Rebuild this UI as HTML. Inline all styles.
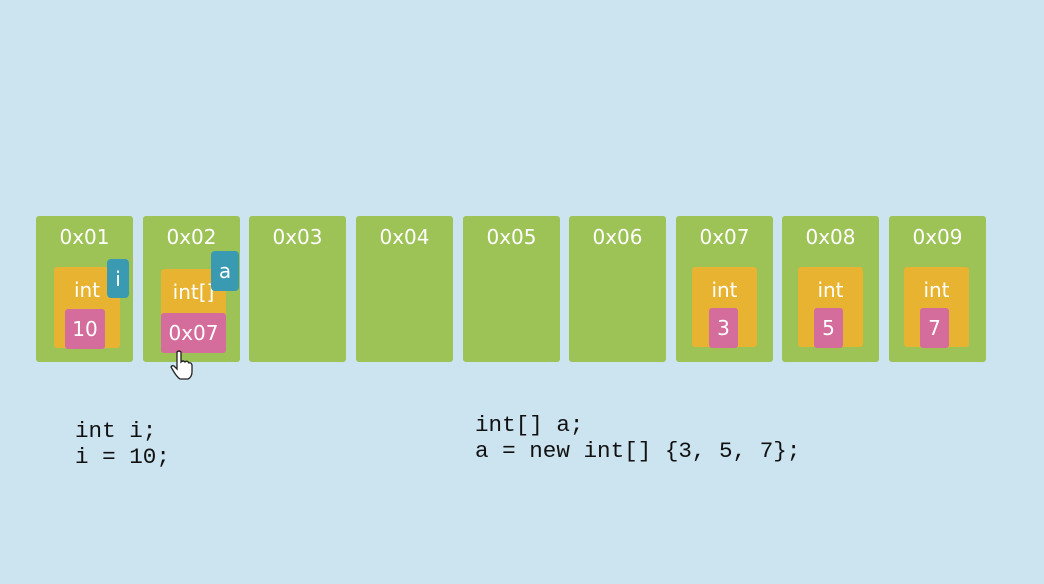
<!DOCTYPE html>
<html><head><meta charset="utf-8"><style>
body{margin:0;width:1044px;height:584px;background:#cce3f0;position:relative;overflow:hidden;font-family:"DejaVu Sans","Liberation Sans",sans-serif;}
.cell{position:absolute;top:216px;width:97px;height:146px;background:#9dc256;border-radius:3px;}
.addr{position:absolute;top:9px;left:0;width:100%;text-align:center;color:#fff;font-size:20px;}
.box{position:absolute;background:#e8b330;border-radius:3px;}
.box .t{position:absolute;top:11px;width:100%;text-align:center;color:#fff;font-size:20px;}
.val{position:absolute;background:#d46c9c;border-radius:3px;color:#fff;font-size:20px;display:flex;align-items:center;justify-content:center;}
.tag{position:absolute;background:#3a9ab2;border-radius:4px;color:#fff;font-size:20px;display:flex;align-items:center;justify-content:center;}
.code{position:absolute;font-family:"Liberation Mono",monospace;font-size:22.6px;line-height:26px;color:#111;white-space:pre;}
</style></head><body>
<div class="cell" style="left:36px"><div class="addr">0x01</div>
 <div class="box" style="left:18px;top:51px;width:66px;height:81px"><div class="t">int</div></div>
 <div class="val" style="left:29px;top:93px;width:40px;height:40px">10</div>
 <div class="tag" style="left:71px;top:43px;width:22px;height:39px">i</div></div>
<div class="cell" style="left:143px"><div class="addr">0x02</div>
 <div class="box" style="left:18px;top:53px;width:65px;height:80px"><div class="t">int[]</div></div>
 <div class="val" style="left:18px;top:97px;width:65px;height:40px">0x07</div>
 <div class="tag" style="left:68px;top:35px;width:28px;height:40px">a</div></div>
<div class="cell" style="left:249px"><div class="addr">0x03</div></div>
<div class="cell" style="left:356px"><div class="addr">0x04</div></div>
<div class="cell" style="left:463px"><div class="addr">0x05</div></div>
<div class="cell" style="left:569px"><div class="addr">0x06</div></div>
<div class="cell" style="left:676px"><div class="addr">0x07</div>
 <div class="box" style="left:16px;top:51px;width:65px;height:80px"><div class="t">int</div></div>
 <div class="val" style="left:33px;top:92px;width:29px;height:40px">3</div></div>
<div class="cell" style="left:782px"><div class="addr">0x08</div>
 <div class="box" style="left:16px;top:51px;width:65px;height:80px"><div class="t">int</div></div>
 <div class="val" style="left:32px;top:92px;width:29px;height:40px">5</div></div>
<div class="cell" style="left:889px"><div class="addr">0x09</div>
 <div class="box" style="left:15px;top:51px;width:65px;height:80px"><div class="t">int</div></div>
 <div class="val" style="left:31px;top:92px;width:29px;height:40px">7</div></div>
<div class="code" style="left:75px;top:418px">int i;
i = 10;</div>
<div class="code" style="left:475px;top:412px">int[] a;
a = new int[] {3, 5, 7};</div>
<svg style="position:absolute;left:170px;top:350px" width="26" height="30">
<path d="M7 2 q2-2 4 0 v10 q2-2 4 0 q2-2 4 1 q2-1 3 2 v7 q0 5-4 7 h-8 q-3-2-6-7 l-3-5 q1-2 3-1 l3 3z" fill="#fff" stroke="#222" stroke-width="1.3"/>
</svg>
</body></html>
